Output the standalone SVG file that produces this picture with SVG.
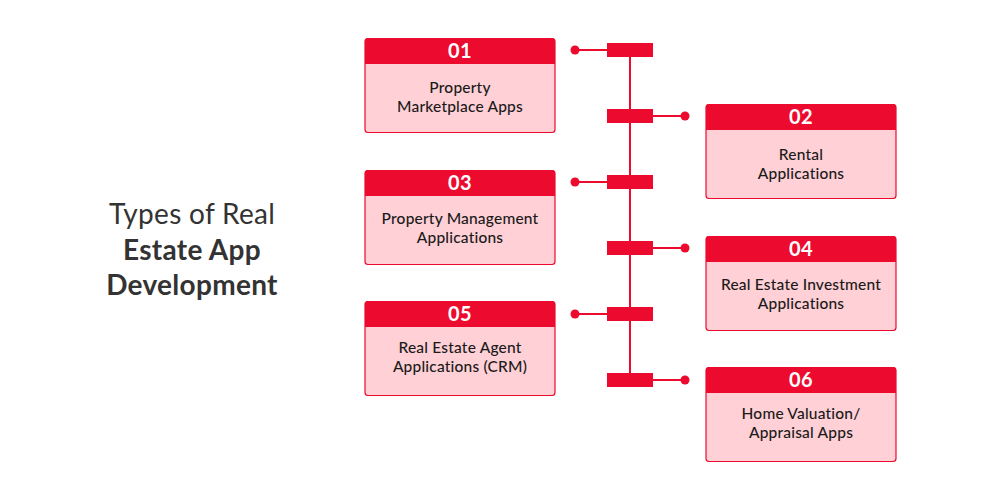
<svg xmlns="http://www.w3.org/2000/svg" width="1000" height="500" viewBox="0 0 1000 500">
<style>
.body{fill:#ffd0d6;stroke:#ec0b2e;stroke-width:1.2}
.head{fill:#ec0b2e}
.num{font-family:Lato,"Noto Sans",sans-serif;font-weight:700;font-size:20px;fill:#fff;text-anchor:middle;letter-spacing:0.5px}
.lbl{font-family:Lato,"Noto Sans",sans-serif;font-weight:500;font-size:15.5px;fill:#1a1a1a;text-anchor:middle;letter-spacing:0.2px}
.ttl{font-family:Lato,"Noto Sans",sans-serif;font-size:28px;fill:#333;text-anchor:middle;letter-spacing:0.3px}
.conn line{stroke:#ec0b2e;stroke-width:2}
.conn rect,.conn circle{fill:#ec0b2e}
</style>
<rect width="1000" height="500" fill="#fff"/>
<g id="title">
<text class="ttl" x="192" y="224">Types of Real</text>
<text class="ttl" x="192" y="260" font-weight="700">Estate App</text>
<text class="ttl" x="192" y="295" font-weight="700">Development</text>
</g>
<g id="connectors" class="conn">
<line x1="630" y1="50" x2="630" y2="380"/>
<line x1="575" y1="50" x2="607" y2="50"/><circle cx="575" cy="50" r="4.5"/><rect x="607" y="43" width="46" height="14"/>
<line x1="653" y1="116" x2="685" y2="116"/><circle cx="685" cy="116" r="4.5"/><rect x="607" y="109" width="46" height="14"/>
<line x1="575" y1="182" x2="607" y2="182"/><circle cx="575" cy="182" r="4.5"/><rect x="607" y="175" width="46" height="14"/>
<line x1="653" y1="248" x2="685" y2="248"/><circle cx="685" cy="248" r="4.5"/><rect x="607" y="241" width="46" height="14"/>
<line x1="575" y1="314" x2="607" y2="314"/><circle cx="575" cy="314" r="4.5"/><rect x="607" y="307" width="46" height="14"/>
<line x1="653" y1="380" x2="685" y2="380"/><circle cx="685" cy="380" r="4.5"/><rect x="607" y="373" width="46" height="14"/>
</g>
<g id="node1">
<rect class="body" x="365" y="38.5" width="190" height="94" rx="3"/>
<path class="head" d="M368 38h184a3 3 0 0 1 3 3v23h-190v-23a3 3 0 0 1 3-3z"/>
<text class="num" x="460" y="58">01</text>
<text class="lbl" x="460" y="93">Property</text>
<text class="lbl" x="460" y="112">Marketplace Apps</text>
</g>
<g id="node2">
<rect class="body" x="706" y="104.5" width="190" height="94" rx="3"/>
<path class="head" d="M709 104h184a3 3 0 0 1 3 3v23h-190v-23a3 3 0 0 1 3-3z"/>
<text class="num" x="801" y="124">02</text>
<text class="lbl" x="801" y="160">Rental</text>
<text class="lbl" x="801" y="179">Applications</text>
</g>
<g id="node3">
<rect class="body" x="365" y="170.5" width="190" height="94" rx="3"/>
<path class="head" d="M368 170h184a3 3 0 0 1 3 3v23h-190v-23a3 3 0 0 1 3-3z"/>
<text class="num" x="460" y="190">03</text>
<text class="lbl" x="460" y="224">Property Management</text>
<text class="lbl" x="460" y="243">Applications</text>
</g>
<g id="node4">
<rect class="body" x="706" y="236.5" width="190" height="94" rx="3"/>
<path class="head" d="M709 236h184a3 3 0 0 1 3 3v23h-190v-23a3 3 0 0 1 3-3z"/>
<text class="num" x="801" y="256">04</text>
<text class="lbl" x="801" y="290">Real Estate Investment</text>
<text class="lbl" x="801" y="309">Applications</text>
</g>
<g id="node5">
<rect class="body" x="365" y="301.5" width="190" height="94" rx="3"/>
<path class="head" d="M368 301h184a3 3 0 0 1 3 3v23h-190v-23a3 3 0 0 1 3-3z"/>
<text class="num" x="460" y="321">05</text>
<text class="lbl" x="460" y="353">Real Estate Agent</text>
<text class="lbl" x="460" y="372">Applications (CRM)</text>
</g>
<g id="node6">
<rect class="body" x="706" y="367.5" width="190" height="94" rx="3"/>
<path class="head" d="M709 367h184a3 3 0 0 1 3 3v23h-190v-23a3 3 0 0 1 3-3z"/>
<text class="num" x="801" y="387">06</text>
<text class="lbl" x="801" y="419">Home Valuation/</text>
<text class="lbl" x="801" y="438">Appraisal Apps</text>
</g>
</svg>
